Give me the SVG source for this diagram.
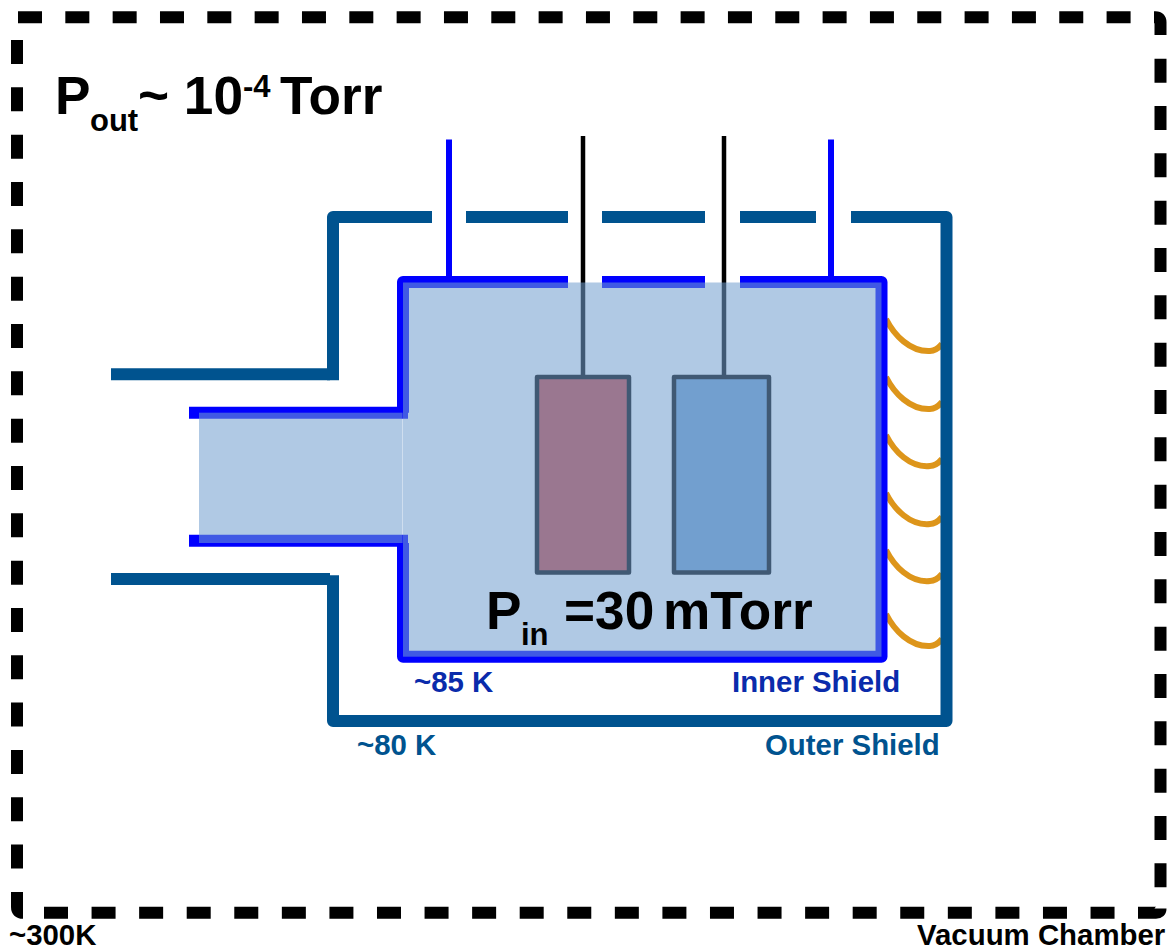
<svg xmlns="http://www.w3.org/2000/svg" width="1168" height="949" viewBox="0 0 1168 949">
<style>
text{font-family:"Liberation Sans",Arial,sans-serif;font-weight:700;fill:#000}
.big{font-size:53.2px}
.sub{font-size:31px}
.lab{font-size:29.4px}
.in{fill:#0a2bab}
.out{fill:#00538f}
.v{fill:none;stroke:#000;stroke-width:12}
.d{stroke-dasharray:24 23.33}
.o{fill:none;stroke:#00538f;stroke-width:12;stroke-linejoin:round}
.b{fill:none;stroke:#00f;stroke-width:12;stroke-linejoin:round}
.lead{fill:none;stroke:#00f;stroke-width:6}
.wire{fill:none;stroke:#000;stroke-width:4.5}
.strap{fill:none;stroke:#dd951a;stroke-width:6;stroke-linecap:butt}
.box{stroke:#000;stroke-width:4.5;stroke-linejoin:round}
.gas{fill:#729fcf;fill-opacity:.56}
</style>
<g id="vacuum-chamber">
<path class="v d" d="M18 17.300H1132"/>
<path class="v" d="M1154 17.300H1155.500Q1160.500 17.300 1160.500 22.300V35"/>
<path class="v d" d="M1160.500 58.700V889"/>
<path class="v" d="M1160.500 908.500Q1160.500 912.800 1156 912.800H1138"/>
<path class="v" stroke-dasharray="24 23.57" d="M44 912.800H1115"/>
<path class="v" d="M17 892V907Q17 912.800 23 912.800"/>
<path class="v d" d="M17 40V870"/>
</g>
<g id="thermal-straps">
<path class="strap" d="M886 319C894 335 910 352 930 351Q936 351 942 344"/>
<path class="strap" d="M886 377C894 393 910 410 930 409Q936 409 942 402"/>
<path class="strap" d="M886 435C894 451 910 468 930 466Q936 466 942 459"/>
<path class="strap" d="M886 493C894 509 910 526 930 524Q936 524 942 517"/>
<path class="strap" d="M886 550C894 566 910 583 930 581Q936 581 942 574"/>
<path class="strap" d="M886 614C894 630 910 647 930 646Q936 646 942 639"/>
</g>
<g id="outer-shield">
<path class="o" d="M111 374.300H330"/>
<path class="o" d="M333 380.300V217H432"/>
<path class="o" d="M466 217H568M602 217H705M740 217H816"/>
<path class="o" d="M851 217H946.500V721H333V575.300"/>
<path class="o" d="M111 579H330"/>
</g>
<g id="inner-shield">
<path class="lead" d="M449 139.500V278M831 139.500V278"/>
<path class="b" d="M189 412.700H408"/>
<path class="b" d="M403 412.700V282H568"/>
<path class="b" d="M602 282H705"/>
<path class="b" d="M740 282H881.500V656.700H403V543"/>
<path class="b" d="M189 540.700H408"/>
</g>
<g id="wires">
<path class="wire" d="M583 136V377M724 136V377"/>
</g>
<g id="sample-1"><rect class="box" x="537" y="377" width="92" height="195.500" fill="#cd4640"/></g>
<g id="sample-2"><rect class="box" x="674" y="377" width="95" height="195.500" fill="#729fcf"/></g>
<g id="gas-volume">
<rect class="gas" x="199" y="412.700" width="203.600" height="130.300"/>
<rect class="gas" x="403" y="282.500" width="478.500" height="374.200"/>
</g>
<g id="labels">
<text class="big" x="55" y="113.500">P</text><text class="sub" x="90" y="131">out</text><text class="big" x="138" y="113.500">~ 10</text><text class="sub" x="243" y="97">-4</text><text class="big" x="280" y="113.500">Torr</text>
<text class="big" x="486" y="628.500">P</text><text class="sub" x="521" y="645">in</text><text class="big" x="564" y="628.500">=30</text><text class="big" x="663" y="628.500">mTorr</text>
<text class="lab in" x="414" y="692">~85 K</text>
<text class="lab in" x="732" y="692">Inner Shield</text>
<text class="lab out" x="357" y="755">~80 K</text>
<text class="lab out" x="765" y="755">Outer Shield</text>
<text class="lab" x="9" y="945">~300K</text>
<text class="lab" x="917" y="945">Vacuum Chamber</text>
</g>
</svg>
